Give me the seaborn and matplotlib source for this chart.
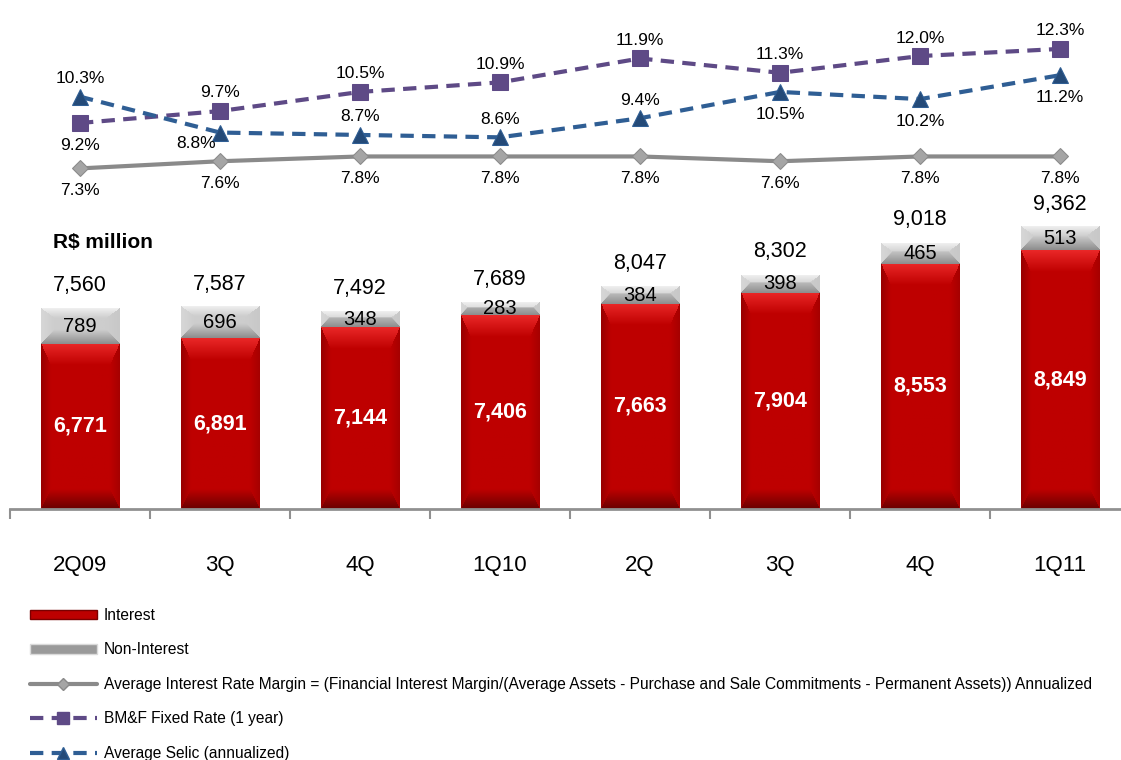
import numpy as np
import pandas as pd
import matplotlib
matplotlib.use("Agg")
import matplotlib.pyplot as plt
import seaborn as sns
from matplotlib.lines import Line2D
from matplotlib.patches import Patch

# quarters (keys must be unique, labels repeat)
period_keys = ["2Q09", "3Q09", "4Q09", "1Q10", "2Q10", "3Q10", "4Q10", "1Q11"]
period_labels = ["2Q09", "3Q", "4Q", "1Q10", "2Q", "3Q", "4Q", "1Q11"]

# R$ million
interest = [6771, 6891, 7144, 7406, 7663, 7904, 8553, 8849]
non_interest = [789, 696, 348, 283, 384, 398, 465, 513]
total = [7560, 7587, 7492, 7689, 8047, 8302, 9018, 9362]

# rates, %
margin = [7.3, 7.6, 7.8, 7.8, 7.8, 7.6, 7.8, 7.8]
bmf_rate = [9.2, 9.7, 10.5, 10.9, 11.9, 11.3, 12.0, 12.3]
selic = [10.3, 8.8, 8.7, 8.6, 9.4, 10.5, 10.2, 11.2]

RED = "#BD0000"
GRAY_BAR = "#C4C4C4"
PURPLE = "#5E4A86"
BLUE = "#2F5E94"
GRAY_LINE = "#8A8A8A"

sns.set_theme(style="white")
plt.rcParams["font.family"] = ["Liberation Sans", "DejaVu Sans"]
plt.rcParams["text.color"] = "black"
plt.rcParams["xtick.labelcolor"] = "black"

W, H = 1121, 760
fig = plt.figure(figsize=(W / 100, H / 100), dpi=100)

df = pd.DataFrame({"period": period_keys, "interest": interest,
                   "non_interest": non_interest, "total": total})

BAR_W = 0.56
Y0, PX_PER_UNIT, AX_H = 3100, 0.045, 310


def bevel(wpx, hpx, base, top, bottom, left, right, bt, bb, bs):
    # pyramid-frame shading like the office 3d bars
    y = np.arange(hpx)[:, None] + 0.5
    x = np.arange(wpx)[None, :] + 0.5
    d = np.stack([np.broadcast_to(y / bt, (hpx, wpx)),
                  np.broadcast_to((hpx - y) / bb, (hpx, wpx)),
                  np.broadcast_to(x / bs, (hpx, wpx)),
                  np.broadcast_to((wpx - x) / bs, (hpx, wpx))])
    k = d.argmin(axis=0)
    t = np.clip(d.min(axis=0), 0, 1)[..., None]
    edges = np.array([top, bottom, left, right], dtype=float)[k]
    img = edges * (1 - t) + np.array(base, dtype=float) * t
    return img / 255


# ---- bars
ax = fig.add_axes([10 / W, 1 - 509 / H, 1120 / W, AX_H / H])
sns.barplot(data=df, x="period", y="total", color=GRAY_BAR, width=BAR_W,
            saturation=1, linewidth=0, ax=ax)
sns.barplot(data=df, x="period", y="interest", color=RED, width=BAR_W,
            saturation=1, linewidth=0, ax=ax)

wpx = int(BAR_W * 140)
for i, (a, t) in enumerate(zip(interest, total)):
    hr = max(int((a - Y0) * PX_PER_UNIT), 2)
    img = bevel(wpx, hr, (190, 0, 0), (235, 40, 40), (105, 0, 0), (150, 0, 0), (165, 0, 0), 22, 20, 10)
    ax.imshow(img, extent=[i - BAR_W / 2, i + BAR_W / 2, Y0, a], aspect="auto", zorder=2)
    hg = max(int((t - a) * PX_PER_UNIT), 2)
    img = bevel(wpx, hg, (205, 205, 205), (240, 240, 240), (140, 140, 140), (215, 215, 215), (200, 200, 200), 10, 14, 14)
    ax.imshow(img, extent=[i - BAR_W / 2, i + BAR_W / 2, a, t], aspect="auto", zorder=2)
ax.set_xlim(-0.5, 7.5)
ax.set_ylim(Y0, Y0 + AX_H / PX_PER_UNIT)

ax.bar_label(ax.containers[0], labels=[f"{v:,}" for v in total],
             padding=9, fontsize=15.5, color="black", zorder=4)
ax.bar_label(ax.containers[1], labels=[f"{v:,}" for v in interest],
             label_type="center", fontsize=15.5, color="white", fontweight="bold", zorder=4)
for i, (a, b) in enumerate(zip(interest, non_interest)):
    ax.text(i, a + b / 2, f"{b:,}", ha="center", va="center", fontsize=14.5,
            color="black", zorder=4)

ax.set_xticks(range(len(period_labels)))
ax.set_xticklabels(period_labels, fontsize=16)
ax.set_xticks(np.arange(-0.5, 8, 1), minor=True)
ax.tick_params(axis="x", which="major", bottom=False, length=0, pad=33)
ax.tick_params(axis="x", which="minor", bottom=True, length=7, width=1.5,
               color="#909090", direction="out")
ax.set_yticks([])
ax.set_xlabel("")
ax.set_ylabel("")
for s in ["left", "right", "top"]:
    ax.spines[s].set_visible(False)
ax.spines["bottom"].set_color("#909090")
ax.spines["bottom"].set_linewidth(2)
ax.patch.set_alpha(0)

fig.text(53 / W, 1 - 242 / H, "R$ million", fontsize=15, fontweight="bold", va="center")

# ---- rate lines
lx = fig.add_axes([10 / W, 1 - 200 / H, 1120 / W, 200 / H])
xs = np.arange(len(period_keys))
sns.lineplot(x=xs, y=margin, color=GRAY_LINE, lw=3, marker="D", ms=8,
             mfc="#A5A5A5", mec="#8A8A8A", ax=lx)
sns.lineplot(x=xs, y=bmf_rate, color=PURPLE, lw=3, marker="s", ms=11,
             mfc=PURPLE, mec=PURPLE, ax=lx)
lx.lines[-1].set_dashes([3.2, 2])
sns.lineplot(x=xs, y=selic, color=BLUE, lw=3, marker="^", ms=11,
             mfc="#244A78", mec=BLUE, ax=lx)
lx.lines[-1].set_dashes([3.2, 2])
lx.set_xlim(-0.5, 7.5)
lx.set_ylim(9.2 - 77 / 23.9, 9.2 + 123 / 23.9)
lx.axis("off")

bmf_pos = ["below", "above", "above", "above", "above", "above", "above", "above"]
selic_pos = ["above", "below", "above", "above", "above", "below", "below", "below"]


def put_labels(vals, where, shift=None):
    for i, (v, w) in enumerate(zip(vals, where)):
        dx, dy = (0, 13 if w == "above" else -16) if shift is None or shift[i] is None else shift[i]
        lx.annotate(f"{v:.1f}%", (i, v), xytext=(dx, dy), textcoords="offset points",
                    ha="center", va="center", fontsize=12.5, color="black")


put_labels(margin, ["below"] * 8)
put_labels(bmf_rate, bmf_pos)
put_labels(selic, selic_pos, shift=[None, (-17, -8), None, None, None, None, None, None])

# ---- legend
handles = [
    Patch(facecolor=RED, edgecolor="#7A0000"),
    Patch(facecolor="#9A9A9A", edgecolor="#DADADA"),
    Line2D([], [], color=GRAY_LINE, lw=3, marker="D", ms=6, mfc="#A5A5A5", mec="#8A8A8A"),
    Line2D([], [], color=PURPLE, lw=3, ls=(0, (3.2, 2)), marker="s", ms=9, mfc=PURPLE, mec=PURPLE),
    Line2D([], [], color=BLUE, lw=3, ls=(0, (3.2, 2)), marker="^", ms=9, mfc="#244A78", mec=BLUE),
]
labels = [
    "Interest",
    "Non-Interest",
    "Average Interest Rate Margin = (Financial Interest Margin/(Average Assets - Purchase and Sale Commitments - Permanent Assets)) Annualized",
    "BM&F Fixed Rate (1 year)",
    "Average Selic (annualized)",
]
fig.legend(handles, labels, loc="upper left", bbox_to_anchor=(30 / W, 1 - 608 / H),
           frameon=False, fontsize=11.2, handlelength=4.3, handleheight=0.55,
           labelspacing=1.25, handletextpad=0.45, borderaxespad=0, borderpad=0)

fig.savefig("out.png", dpi=100)
